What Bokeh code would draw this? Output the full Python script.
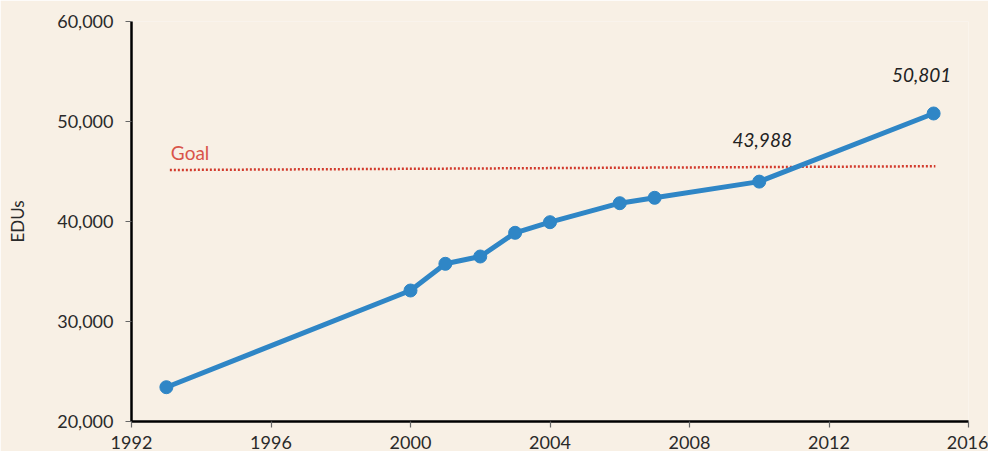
from bokeh.plotting import figure
from bokeh.models import ColumnDataSource, NumeralTickFormatter, FixedTicker, Label
from bokeh.embed import file_html
from bokeh.resources import INLINE

years = [1993, 2000, 2001, 2002, 2003, 2004, 2006, 2007, 2010, 2015]
edus = [23430, 33100, 35770, 36500, 38870, 39930, 41830, 42370, 43988, 50801]
goal_years = [1993.1, 2015.05]
goal_values = [45150, 45530]
x_ticks = [1992, 1996, 2000, 2004, 2008, 2012, 2016]
y_ticks = [20000, 30000, 40000, 50000, 60000]
annotated_years = [2010, 2015]
annotated_values = [43988, 50801]
annotated_dx = [3, -12]
annotated_dy = [42, 38]

BG = "#f8f0e5"
BLUE = "#2f86c6"
RED = "#d23a2c"
FONT = "Lato"

p = figure(frame_width=837, frame_height=400, output_backend="svg", toolbar_location=None,
           x_range=(1992, 2016), y_range=(20000, 60000),
           min_border_left=131, min_border_top=21, min_border_right=20, min_border_bottom=20,
           background_fill_color=BG, border_fill_color=BG, outline_line_color=None)

p.grid.visible = False

p.xaxis.ticker = FixedTicker(ticks=x_ticks)
p.yaxis.ticker = FixedTicker(ticks=y_ticks)
p.yaxis.formatter = NumeralTickFormatter(format="0,0")
for ax in (p.xaxis, p.yaxis):
    ax.axis_line_color = "black"
    ax.axis_line_width = 2.5
    ax.major_tick_line_color = "#666666"
    ax.major_tick_line_width = 1.2
    ax.major_tick_out = 6
    ax.major_tick_in = 0
    ax.minor_tick_line_color = None
    ax.major_label_text_font = FONT
    ax.major_label_text_color = "#2a2a2a"
p.xaxis.major_label_text_font_size = "18px"
p.yaxis.major_label_text_font_size = "18px"
p.xaxis.major_label_standoff = 8
p.yaxis.major_label_standoff = 12
p.yaxis.axis_label = "EDUs"
p.yaxis.axis_label_text_font = FONT
p.yaxis.axis_label_text_font_style = "normal"
p.yaxis.axis_label_text_font_size = "17px"
p.yaxis.axis_label_text_color = "#2a2a2a"
p.yaxis.axis_label_standoff = 26

# Goal line
p.line(goal_years, goal_values, line_color=RED, line_width=2.5, line_dash="2 2")
p.add_layout(Label(x=goal_years[0], y=goal_values[0], text="Goal", x_offset=1, y_offset=18,
                   text_baseline="alphabetic",
                   text_font=FONT, text_font_size="19px", text_color="#d9544a"))

src = ColumnDataSource(dict(x=years, y=edus))
p.line("x", "y", source=src, line_color=BLUE, line_width=5)
p.scatter("x", "y", source=src, size=13, fill_color=BLUE, line_color=BLUE)

for yr, v, dx, dy in zip(annotated_years, annotated_values, annotated_dx, annotated_dy):
    p.add_layout(Label(x=yr, y=v, text=f"{v:,}", text_align="center", text_baseline="alphabetic",
                       y_offset=dy, x_offset=dx,
                       text_font=FONT, text_font_style="italic", text_font_size="19px",
                       text_color="#222222"))

open("out.html", "w").write(file_html(p, INLINE))
